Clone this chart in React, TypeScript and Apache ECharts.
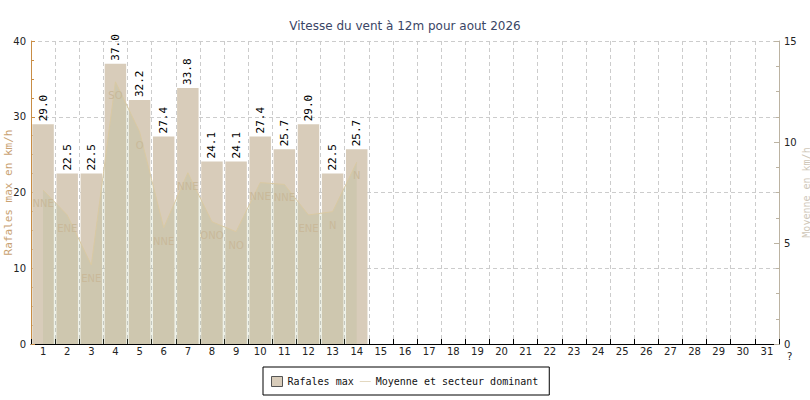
import React, { useEffect, useRef } from "react";
import * as echarts from "echarts";

const days = ["1","2","3","4","5","6","7","8","9","10","11","12","13","14","15","16","17","18","19","20","21","22","23","24","25","26","27","28","29","30","31"];
const gusts = [29.0, 22.5, 22.5, 37.0, 32.2, 27.4, 33.8, 24.1, 24.1, 27.4, 25.7, 29.0, 22.5, 25.7];
const meanWind = [7.62, 6.39, 3.91, 12.98, 10.51, 5.76, 8.48, 6.05, 5.56, 7.99, 7.9, 6.39, 6.55, 9.0];
const sectors = ["NNE","ENE","ENE","SO","O","NNE","NNE","ONO","NO","NNE","NNE","ENE","N","N"];

const TITLE = "Vitesse du vent à 12m pour aout 2026";
const MONO = "'DejaVu Sans Mono', monospace";
const SANS = "'DejaVu Sans', sans-serif";

export default function App() {
  const ref = useRef<HTMLDivElement>(null);
  useEffect(() => {
    if (!ref.current) return;
    const chart = echarts.init(ref.current, null, { renderer: "svg" });
    chart.setOption({
      animation: false,
      backgroundColor: "#ffffff",
      title: {
        text: TITLE,
        left: "center",
        top: 15,
        textStyle: { fontFamily: SANS, fontSize: 12, fontWeight: "normal", color: "#3a4565" },
      },
      grid: { left: 31, right: 31, top: 41, bottom: 56, containLabel: false, outerBoundsMode: "none" },
      legend: {
        left: 263,
        top: 367,
        orient: "horizontal",
        padding: [9, 11, 8, 8],
        borderColor: "#000",
        borderWidth: 1,
        itemWidth: 11,
        itemHeight: 10,
        itemGap: 6,
        textStyle: { fontFamily: MONO, fontSize: 10, color: "#111" },
        data: [
          { name: "Rafales max", icon: "rect", itemStyle: { color: "#d8ccba", borderColor: "#555", borderWidth: 1 } },
          {
            name: "Moyenne et secteur dominant",
            icon: "path://M0,0 M0,4.5 L11,4.5 L11,5.5 L0,5.5 Z M11,10",
            itemStyle: { color: "#e3d8c0", opacity: 1, borderWidth: 0 },
            lineStyle: { color: "#e3d8c0", width: 0, opacity: 0 },
          },
        ],
      },
      xAxis: {
        type: "category",
        data: days,
        boundaryGap: true,
        axisLine: { show: true, lineStyle: { color: "#000", width: 1 } },
        axisTick: { show: true, inside: true, length: 5, lineStyle: { color: "#000" } },
        axisLabel: { fontFamily: SANS, fontSize: 10, color: "#222", margin: 2 },
        splitLine: { show: true, lineStyle: { color: "#cccccc", type: [4, 3] } },
      },
      yAxis: [
        {
          type: "value",
          min: 0,
          max: 40,
          interval: 10,
          name: "Rafales max en km/h",
          nameLocation: "middle",
          nameGap: 17,
          nameMoveOverlap: false,
          nameTextStyle: { fontFamily: MONO, fontSize: 11, color: "#c9a272" },
          axisLine: { show: true, lineStyle: { color: "#c98d45", width: 1 } },
          axisTick: { show: true, inside: true, length: 4, lineStyle: { color: "#c98d45" } },
          minorTick: { show: true, splitNumber: 4, length: 3, lineStyle: { color: "#c98d45" } },
          axisLabel: { fontFamily: SANS, fontSize: 10, color: "#222", margin: 5 },
          splitLine: { show: true, lineStyle: { color: "#cccccc", type: [4, 3] } },
        },
        {
          type: "value",
          min: 0,
          max: 15,
          interval: 5,
          position: "right",
          name: "Moyenne en km/h",
          nameLocation: "middle",
          nameGap: 22,
          nameRotate: 90,
          nameMoveOverlap: false,
          nameTextStyle: { fontFamily: MONO, fontSize: 10, color: "#cfc7b8" },
          axisLine: { show: true, lineStyle: { color: "#bcb3a2", width: 1 } },
          axisTick: { show: true, inside: true, length: 5, lineStyle: { color: "#bcb3a2" } },
          minorTick: { show: true, splitNumber: 4, length: 3, lineStyle: { color: "#bcb3a2" } },
          axisLabel: { fontFamily: SANS, fontSize: 10, color: "#222", margin: 5 },
          splitLine: { show: false },
        },
      ],
      series: [
        {
          name: "Rafales max",
          type: "bar",
          yAxisIndex: 0,
          data: gusts,
          barCategoryGap: "11%",
          itemStyle: { color: "#d8ccba" },
          z: 2,
          label: {
            show: true,
            position: "top",
            rotate: 90,
            align: "left",
            verticalAlign: "middle",
            distance: 3,
            fontFamily: MONO,
            fontSize: 11,
            color: "#000",
            formatter: (p: any) => Number(p.value).toFixed(1),
          },
        },
        {
          name: "Moyenne et secteur dominant",
          type: "line",
          yAxisIndex: 1,
          data: meanWind,
          symbol: "circle",
          symbolSize: 1,
          showSymbol: true,
          itemStyle: { color: "rgba(0,0,0,0)", borderWidth: 0 },
          lineStyle: { color: "#d9c9a3", width: 1 },
          areaStyle: { color: "rgba(160,180,130,0.26)", origin: "start" },
          z: 3,
          label: {
            show: true,
            position: "bottom",
            distance: 8,
            fontFamily: SANS,
            fontSize: 10,
            color: "#c9b99a",
            formatter: (p: any) => sectors[p.dataIndex],
          },
        },
      ],
      graphic: [
        {
          type: "text",
          left: 787,
          top: 351,
          style: { text: "?", fontFamily: SANS, fontSize: 10, fill: "#222" },
        },
      ],
    });
    return () => chart.dispose();
  }, []);
  return <div ref={ref} style={{ position: "fixed", left: 0, top: 0, width: 810, height: 400 }} />;
}
